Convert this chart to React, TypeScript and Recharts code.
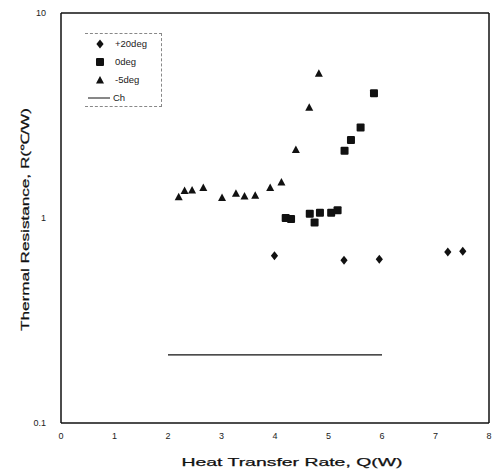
import { ScatterChart, Scatter, XAxis, YAxis, ReferenceLine, Legend } from 'recharts'

// Heat transfer rate Q (W) and thermal resistance R (C/W)
const plus20Q = [3.99, 5.29, 5.95, 7.23, 7.51]
const plus20R = [0.655, 0.622, 0.629, 0.683, 0.688]

const zeroQ = [4.2, 4.3, 4.65, 4.74, 4.84, 5.05, 5.17, 5.3, 5.42, 5.6, 5.85]
const zeroR = [1.0, 0.99, 1.05, 0.95, 1.06, 1.06, 1.09, 2.13, 2.4, 2.76, 4.06]

const minus5Q = [2.2, 2.31, 2.45, 2.66, 3.01, 3.27, 3.43, 3.63, 3.91, 4.12, 4.39, 4.64, 4.82]
const minus5R = [1.27, 1.36, 1.37, 1.41, 1.26, 1.32, 1.28, 1.29, 1.41, 1.5, 2.16, 3.47, 5.08]

const chQ = [2, 6]
const chR = [0.215, 0.215]

const xTicks = [0, 1, 2, 3, 4, 5, 6, 7, 8]
const yTicks = [0.1, 1, 10]
const yTickLabels: Record<number, string> = { 0.1: '0.1', 1: '1', 10: '10' }

const legendLabels = ['+20deg', '0deg', '-5deg', 'Ch']

const toPoints = (qs: number[], rs: number[]) => qs.map((q, i) => ({ q, r: rs[i] }))

const plus20 = toPoints(plus20Q, plus20R)
const zero = toPoints(zeroQ, zeroR)
const minus5 = toPoints(minus5Q, minus5R)
const ch = toPoints(chQ, chR)

const INK = '#111'
const FONT = '"Liberation Sans", Arial, sans-serif'

// marker shapes
const Diamond = ({ cx, cy }: any) => (
  <polygon points={`${cx},${cy - 4.5} ${cx + 3.6},${cy} ${cx},${cy + 4.5} ${cx - 3.6},${cy}`} fill={INK} />
)
const Square = ({ cx, cy }: any) => (
  <rect x={cx - 4} y={cy - 4} width={8} height={8} rx={1} fill={INK} />
)
const Triangle = ({ cx, cy }: any) => (
  <polygon points={`${cx},${cy - 4} ${cx + 4},${cy + 3.5} ${cx - 4},${cy + 3.5}`} fill={INK} />
)
const Nothing = () => <g />

const LegendBox = () => (
  <div
    style={{
      position: 'absolute',
      left: 85,
      top: 33,
      width: 76,
      height: 72,
      borderTop: '1px dashed #888',
      borderRight: '1px dashed #888',
      borderBottom: '1px dashed #888',
      borderLeft: 'none',
      fontFamily: FONT,
      color: '#222',
    }}
  >
    <svg width={76} height={72} style={{ position: 'absolute', left: 0, top: 0 }}>
      <Diamond cx={15} cy={10} />
      <Square cx={15} cy={28} />
      <Triangle cx={15} cy={46} />
      <line x1={3} x2={25} y1={64} y2={64} stroke={INK} strokeWidth={1} />
      <text x={30} y={13} fontSize={9.5} fill="#222">{legendLabels[0]}</text>
      <text x={30} y={31} fontSize={9.5} fill="#222">{legendLabels[1]}</text>
      <text x={30} y={49} fontSize={9.5} fill="#222">{legendLabels[2]}</text>
      <text x={28} y={67} fontSize={9.5} fill="#222">{legendLabels[3]}</text>
    </svg>
  </div>
)

const XTitle = () => (
  <text x={292} y={466} textAnchor="middle" fontFamily={FONT} fontSize={11.5} fill="#111"
    stroke="#111" strokeWidth={0.25} textLength={221} lengthAdjust="spacingAndGlyphs">
    Heat Transfer Rate, Q(W)
  </text>
)

const YTitle = () => (
  <text x={0} y={0} transform="translate(29,219.5) rotate(-90)" textAnchor="middle" fontFamily={FONT}
    fontSize={11.5} fill="#111" stroke="#111" strokeWidth={0.25} textLength={223} lengthAdjust="spacingAndGlyphs">
    Thermal Resistance, R(℃/W)
  </text>
)

export default function App() {
  return (
    <div style={{ position: 'absolute', left: 0, top: 0, width: 494, height: 470, background: '#fff' }}>
      <ScatterChart width={494} height={470} margin={{ top: 13, right: 5, bottom: 17, left: 21 }}>
        <XAxis
          type="number"
          dataKey="q"
          domain={[0, 8]}
          ticks={xTicks}
          allowDataOverflow
          height={30}
          tickLine={false}
          tickSize={7}
          tickMargin={3}
          axisLine={{ stroke: INK, strokeWidth: 1.5 }}
          tick={{ fontSize: 9, fill: '#222', fontFamily: FONT }}
          label={{ content: () => <XTitle /> }}
        />
        <YAxis
          type="number"
          dataKey="r"
          scale="log"
          domain={[0.1, 10]}
          ticks={yTicks}
          allowDataOverflow
          width={40}
          tickLine={false}
          tickSize={10}
          tickMargin={5}
          axisLine={{ stroke: INK, strokeWidth: 1.5 }}
          tick={{ fontSize: 9, fill: '#222', fontFamily: FONT }}
          tickFormatter={(v: number) => yTickLabels[v] ?? String(v)}
          label={{ content: () => <YTitle /> }}
        />
        <ReferenceLine y={10} stroke={INK} strokeWidth={1.5} />
        <ReferenceLine x={8} stroke={INK} strokeWidth={1.5} />
        <Scatter name={legendLabels[0]} data={plus20} shape={<Diamond />} isAnimationActive={false} />
        <Scatter name={legendLabels[1]} data={zero} shape={<Square />} isAnimationActive={false} />
        <Scatter name={legendLabels[2]} data={minus5} shape={<Triangle />} isAnimationActive={false} />
        <Scatter
          name={legendLabels[3]}
          data={ch}
          line={{ stroke: INK, strokeWidth: 1.2 }}
          shape={<Nothing />}
          isAnimationActive={false}
        />
        <Legend layout="horizontal" verticalAlign="middle" align="center" content={() => <LegendBox />}
          wrapperStyle={{ position: 'absolute', left: 0, top: 0, width: 0, height: 0 }} />
      </ScatterChart>
    </div>
  )
}
